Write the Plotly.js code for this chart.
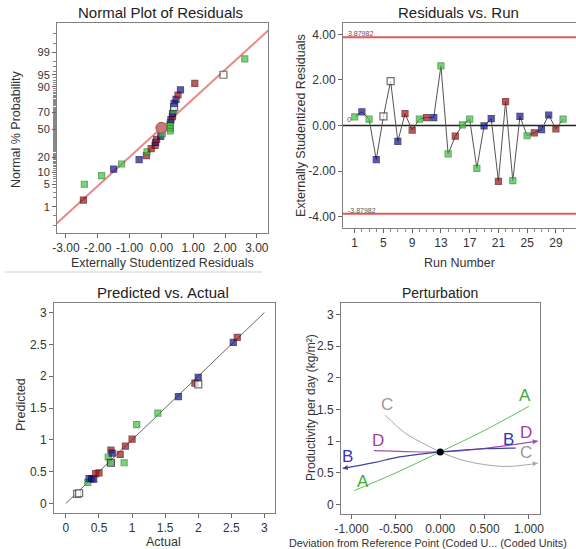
<!DOCTYPE html>
<html>
<head>
<meta charset="utf-8">
<script src="https://cdn.plot.ly/plotly-3.0.1.min.js"></script>
<style>html,body{margin:0;padding:0;background:#fff;}#chart{width:576px;height:549px;}</style>
</head>
<body>
<div id="chart"></div>
<script>
// ---------------- DATA ----------------
// Residuals vs. Run
const runNumbers = [1,2,3,4,5,6,7,8,9,10,11,12,13,14,15,16,17,18,19,20,21,22,23,24,25,26,27,28,29,30];
const runResiduals = [0.38,0.60,0.28,-1.50,0.40,1.95,-0.70,0.52,-0.20,0.28,0.35,0.35,2.62,-1.25,-0.47,0.03,0.28,-1.88,-0.02,0.30,-2.45,1.05,-2.42,0.40,-0.45,-0.32,-0.18,0.46,-0.15,0.28];
const runGroups = ['G','B','G','B','H','H','B','R','R','G','R','B','G','G','R','G','G','G','B','B','R','R','G','B','G','R','B','B','R','G'];
const limitValue = 3.87982;

// Normal plot: probability (%) read for each ranked residual
const normalProb = [1.7,5,8.3,11.7,15,18.3,21.7,25,28.3,31.7,35,38.3,41.7,45,48.3,51.7,55,58.3,61.7,65,68.3,71.7,75,78.3,81.7,85,88.3,91.7,95,98.3];
const normalLineX = [-3.3, 3.4];
const normalLineP = [0.23, 99.87];
const normalCenterX = [0.0];
const normalCenterP = [52];
const normalTickP = [1,5,10,20,50,70,90,95,99];

// Predicted vs. Actual
const predActual    = [0.17,0.20,0.33,0.35,0.39,0.42,0.45,0.50,0.64,0.68,0.68,0.70,0.82,0.88,0.90,1.00,1.07,1.39,1.70,1.95,2.00,2.00,2.53,2.59];
const predPredicted = [0.15,0.16,0.33,0.39,0.39,0.38,0.47,0.48,0.73,0.84,0.64,0.79,0.77,0.64,0.90,1.01,1.24,1.42,1.68,1.89,1.98,1.87,2.53,2.61];
const predGroups    = ['H','H','G','B','B','B','R','R','G','R','K','B','R','G','R','R','G','G','B','R','B','H','B','R'];
const diagX = [0, 3];

// Perturbation
const pertAx = [-0.97,-0.5,0,0.5,1.0];
const pertAy = [0.22,0.50,0.83,1.17,1.55];
const pertBx = [-1.1,-0.75,-0.5,-0.25,0,0.25,0.5,0.85];
const pertBy = [0.57,0.66,0.74,0.79,0.83,0.86,0.88,0.89];
const pertCx = [-0.62,-0.4,-0.2,0,0.25,0.5,0.75,1.1];
const pertCy = [1.41,1.13,0.97,0.83,0.70,0.63,0.60,0.65];
const pertDx = [-0.75,-0.4,0,0.4,0.75,1.1];
const pertDy = [0.85,0.835,0.83,0.87,0.93,1.00];
const refPoint = [0, 0.83];

// ---------------- HELPERS ----------------
function invNorm(p){ // inverse standard normal CDF (Acklam)
  const a=[-3.969683028665376e+01,2.209460984245205e+02,-2.759285104469687e+02,1.383577518672690e+02,-3.066479806614716e+01,2.506628277459239e+00];
  const b=[-5.447609879822406e+01,1.615858368580409e+02,-1.556989798598866e+02,6.680131188771972e+01,-1.328068155288572e+01];
  const c=[-7.784894002430293e-03,-3.223964580411365e-01,-2.400758277161838e+00,-2.549732539343734e+00,4.374664141464968e+00,2.938163982698783e+00];
  const d=[7.784695709041462e-03,3.224671290700398e-01,2.445134137142996e+00,3.754408661907416e+00];
  const pl=0.02425, ph=1-pl; let q,r;
  if(p<pl){q=Math.sqrt(-2*Math.log(p));return (((((c[0]*q+c[1])*q+c[2])*q+c[3])*q+c[4])*q+c[5])/((((d[0]*q+d[1])*q+d[2])*q+d[3])*q+1);}
  if(p<=ph){q=p-0.5;r=q*q;return (((((a[0]*r+a[1])*r+a[2])*r+a[3])*r+a[4])*r+a[5])*q/(((((b[0]*r+b[1])*r+b[2])*r+b[3])*r+b[4])*r+1);}
  q=Math.sqrt(-2*Math.log(1-p));return -(((((c[0]*q+c[1])*q+c[2])*q+c[3])*q+c[4])*q+c[5])/((((d[0]*q+d[1])*q+d[2])*q+d[3])*q+1);
}
const z = p => invNorm(p/100);
const fillOf = {G:'#3fc23f', B:'#16168c', R:'#9c1616', H:'#ffffff', K:'#3a9a3a'};
const lineOf = {G:'#2a8a2a', B:'#08085a', R:'#650808', H:'#333333', K:'#111111'};
const sizeOf = {G:6, B:6, R:6, H:7, K:7};

// ranked residuals for normal plot
const order = runResiduals.map((v,i)=>i).sort((a,b)=>runResiduals[a]-runResiduals[b]);
const normX = order.map(i=>runResiduals[i]);
const normG = order.map(i=>runGroups[i]);

const fontFam = 'Liberation Sans, Arial, sans-serif';
const tickFont = {family:fontFam, size:12, color:'#333'};
const frame = {showline:true, linecolor:'#808080', linewidth:1, mirror:true, ticks:'outside', ticklen:4, tickcolor:'#666', showgrid:false, zeroline:false, tickfont:tickFont};

function markerFor(groups){
  return {symbol:'square', size:groups.map(g=>sizeOf[g]), color:groups.map(g=>fillOf[g]), line:{color:groups.map(g=>lineOf[g]), width:1.2}};
}

// minor ticks on probability axis
const minorP = [];
for(let p=1;p<=99;p++) minorP.push(p);
minorP.push(0.5,0.2,99.5,99.8);

const traces = [
  // Normal plot
  {x:normalLineX, y:normalLineP.map(z), xaxis:'x', yaxis:'y', mode:'lines', line:{color:'#e88a8a', width:2}, hoverinfo:'skip'},
  {x:normX, y:normalProb.map(z), xaxis:'x', yaxis:'y', mode:'markers', marker:markerFor(normG)},
  {x:normalCenterX, y:normalCenterP.map(z), xaxis:'x', yaxis:'y', mode:'markers', marker:{symbol:'circle', size:11, color:'#c47a7a', line:{color:'#9a5050', width:1}}},
  // Residuals vs run
  {x:[-5,40], y:[limitValue,limitValue], xaxis:'x2', yaxis:'y2', mode:'lines', line:{color:'#e05a5a', width:2}},
  {x:[-5,40], y:[-limitValue,-limitValue], xaxis:'x2', yaxis:'y2', mode:'lines', line:{color:'#e05a5a', width:2}},
  {x:[-5,40], y:[0,0], xaxis:'x2', yaxis:'y2', mode:'lines', line:{color:'#222', width:1.5}},
  {x:runNumbers, y:runResiduals, xaxis:'x2', yaxis:'y2', mode:'lines+markers', line:{color:'#555', width:1}, marker:markerFor(runGroups)},
  // Predicted vs actual
  {x:diagX, y:diagX, xaxis:'x3', yaxis:'y3', mode:'lines', line:{color:'#666', width:1}},
  {x:predActual, y:predPredicted, xaxis:'x3', yaxis:'y3', mode:'markers', marker:markerFor(predGroups)},
  // Perturbation
  {x:pertCx, y:pertCy, xaxis:'x4', yaxis:'y4', mode:'lines', line:{color:'#a8a8a8', width:1, shape:'spline'}},
  {x:pertAx, y:pertAy, xaxis:'x4', yaxis:'y4', mode:'lines', line:{color:'#5cbf5c', width:1, shape:'spline'}},
  {x:pertDx, y:pertDy, xaxis:'x4', yaxis:'y4', mode:'lines', line:{color:'#a050a8', width:1.2, shape:'spline'}},
  {x:pertBx, y:pertBy, xaxis:'x4', yaxis:'y4', mode:'lines', line:{color:'#4040a0', width:1.2, shape:'spline'}},
  {x:[refPoint[0]], y:[refPoint[1]], xaxis:'x4', yaxis:'y4', mode:'markers', marker:{color:'#000', size:7}}
];

const W=576, H=549;
const dx = (a,b)=>[a/W, b/W];
const dy = (top,bot)=>[1-bot/H, 1-top/H];

const ann = [];
function title(text, xpx, ypx, size){ ann.push({text, x:xpx/W, y:1-ypx/H, xref:'paper', yref:'paper', showarrow:false, font:{family:fontFam, size, color:'#222'}, xanchor:'center', yanchor:'middle'}); }
function label(text, xpx, ypx, size, angle){ ann.push({text, x:xpx/W, y:1-ypx/H, xref:'paper', yref:'paper', showarrow:false, textangle:angle||0, font:{family:fontFam, size, color:'#333'}, xanchor:'center', yanchor:'middle'}); }
title('Normal Plot of Residuals', 160, 12, 15);
title('Residuals vs. Run', 458, 12, 15);
title('Predicted vs. Actual', 163, 292, 15);
title('Perturbation', 440, 293, 14);
label('Externally Studentized Residuals', 162, 263, 12.5);
label('Normal % Probability', 16, 130, 12.5, -90);
label('Externally Studentized Residuals', 301, 126, 12.5, -90);
label('Run Number', 459, 263, 12.5);
label('Actual', 163, 542, 12.5);
label('Predicted', 21, 405, 12.5, -90);
label('Productivity per day (kg/m²)', 311, 408, 12, -90);
label('Deviation from Reference Point (Coded U... (Coded Units)', 428, 543, 10.8);

// small labels inside run plot
ann.push({text:'3.87982', x:0.0, y:limitValue, xref:'x2', yref:'y2', xanchor:'left', yanchor:'bottom', showarrow:false, font:{family:fontFam, size:7, color:'#555'}, xshift:-2, yshift:-2});
ann.push({text:'-3.87982', x:0.0, y:-limitValue, xref:'x2', yref:'y2', xanchor:'left', yanchor:'bottom', showarrow:false, font:{family:fontFam, size:7, color:'#555'}, xshift:-2, yshift:-2});
ann.push({text:'0', x:-0.4, y:0, xref:'x2', yref:'y2', xanchor:'left', yanchor:'bottom', showarrow:false, font:{family:fontFam, size:8, color:'#555'}, yshift:0});

// perturbation curve letters and arrows
const letter = (t,x,y,c)=>ann.push({text:t, x, y, xref:'x4', yref:'y4', showarrow:false, font:{family:fontFam, size:17, color:c}});
letter('A',-0.87,0.36,'#3aaa3a'); letter('A',0.96,1.72,'#3aaa3a');
letter('B',-1.05,0.76,'#3636b0'); letter('B',0.77,1.03,'#3636b0');
letter('C',-0.6,1.58,'#999'); letter('C',0.97,0.82,'#999');
letter('D',-0.7,1.01,'#a040a0'); letter('D',0.97,1.13,'#a040a0');
function arrowEnd(xs, ys, c, first){
  const i = first?0:xs.length-1, j = first?1:xs.length-2;
  ann.push({x:xs[i], y:ys[i], ax:xs[i]+(xs[i]-xs[j])*-0.15, ay:ys[i]+(ys[i]-ys[j])*-0.15, xref:'x4', yref:'y4', axref:'x4', ayref:'y4', showarrow:true, arrowhead:2, arrowsize:1, arrowwidth:1, arrowcolor:c, text:''});
}
arrowEnd(pertBx, pertBy, '#4040a0', true);
arrowEnd(pertCx, pertCy, '#a8a8a8', false);
arrowEnd(pertDx, pertDy, '#a050a8', false);

const layout = {
  width:W, height:H, margin:{l:0,r:0,t:0,b:0}, showlegend:false,
  paper_bgcolor:'#fff', plot_bgcolor:'#fff', font:{family:fontFam},
  xaxis: Object.assign({}, frame, {domain:dx(57,268), range:[-3.28,3.35], tickvals:[-3,-2,-1,0,1,2,3], ticktext:['-3.00','-2.00','-1.00','0.00','1.00','2.00','3.00'], anchor:'y'}),
  yaxis: Object.assign({}, frame, {domain:dy(23,233), range:[-3.11,3.2], tickvals:normalTickP.map(z), ticktext:normalTickP.map(String), anchor:'x', tickfont:{family:fontFam,size:11,color:'#333'},
           minor:{tickmode:'array', tickvals:minorP.map(z), ticklen:3, tickcolor:'#888', ticks:'outside'}}),
  xaxis2: Object.assign({}, frame, {domain:[343/W, 1], range:[-0.63,31.8], tickvals:[1,5,9,13,17,21,25,29], anchor:'y2',
           minor:{tickmode:'array', tickvals:runNumbers, ticklen:3, tickcolor:'#888', ticks:'outside'}}),
  yaxis2: Object.assign({}, frame, {domain:dy(23,228), range:[-4.5,4.5], tickvals:[-4,-2,0,2,4], ticktext:['-4.00','-2.00','0.00','2.00','4.00'], anchor:'x2'}),
  xaxis3: Object.assign({}, frame, {domain:dx(54,275), range:[-0.18,3.16], tickvals:[0,0.5,1,1.5,2,2.5,3], ticktext:['0','0.5','1','1.5','2','2.5','3'], anchor:'y3'}),
  yaxis3: Object.assign({}, frame, {domain:dy(303,513), range:[-0.15,3.15], tickvals:[0,0.5,1,1.5,2,2.5,3], ticktext:['0','0.5','1','1.5','2','2.5','3'], anchor:'x3'}),
  xaxis4: Object.assign({}, frame, {domain:dx(341,540), range:[-1.12,1.125], tickvals:[-1,-0.5,0,0.5,1], ticktext:['-1.000','-0.500','0.000','0.500','1.000'], anchor:'y4'}),
  yaxis4: Object.assign({}, frame, {domain:dy(303,514), range:[-0.15,3.18], tickvals:[0,0.5,1,1.5,2,2.5,3], ticktext:['0','0.5','1','1.5','2','2.5','3'], anchor:'x4'}),
  annotations: ann,
  shapes:[{type:'line', xref:'paper', yref:'paper', x0:5/W, x1:262/W, y0:1-272/H, y1:1-272/H, line:{color:'#d0d0d0', width:1}}]
};

Plotly.newPlot('chart', traces, layout, {staticPlot:true, displayModeBar:false});
</script>
</body>
</html>
